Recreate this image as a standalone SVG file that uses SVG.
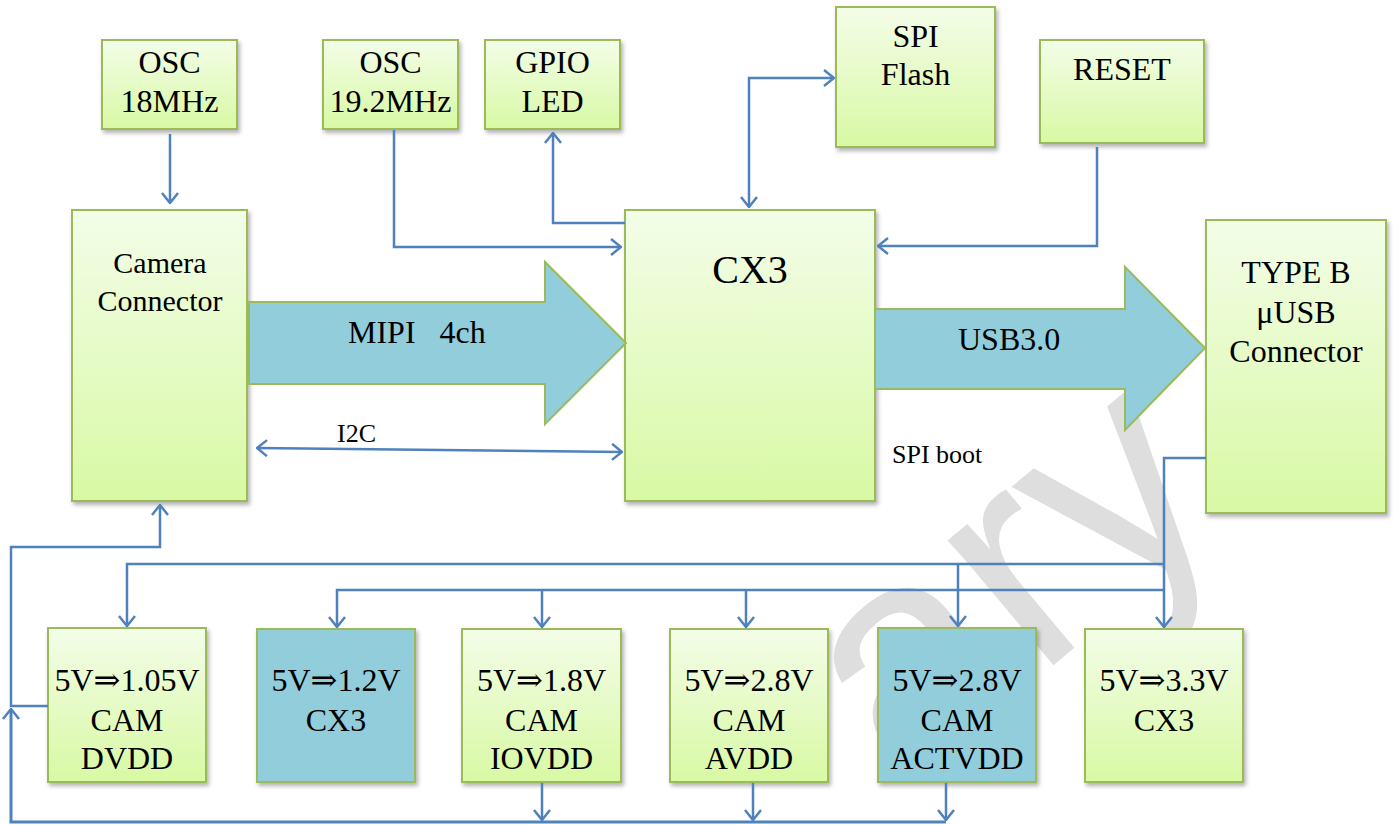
<svg xmlns="http://www.w3.org/2000/svg" width="1396" height="825" viewBox="0 0 1396 825">
<style>
.box{fill:url(#g);stroke:#9BBB59;stroke-width:2;filter:url(#sh)}
.blue{fill:#92CDDC;stroke:#9BBB59;stroke-width:2;filter:url(#sh)}
.big{fill:#92CDDC;stroke:#9BBB59;stroke-width:2}
.t{font-family:'Liberation Serif','DejaVu Serif',serif;font-size:32px;fill:#000;text-anchor:middle}
.s{font-family:'Liberation Serif','DejaVu Serif',serif;font-size:26px;fill:#000}
.c{fill:none;stroke:#4F81BD;stroke-width:2.5}
.wm{font-family:'Liberation Sans','DejaVu Sans',sans-serif;font-size:310px;fill:#dedede}
</style>
<defs>
<linearGradient id="g" x1="0" y1="0" x2="0" y2="1">
<stop offset="0" stop-color="#F3FDE8"/>
<stop offset="1" stop-color="#D8F9A4"/>
</linearGradient>
<filter id="sh" x="-10%" y="-10%" width="130%" height="130%">
<feDropShadow dx="2" dy="3" stdDeviation="2" flood-color="#000" flood-opacity="0.3"/>
</filter>
<marker id="a" markerUnits="userSpaceOnUse" viewBox="0 0 12 18" markerWidth="12" markerHeight="18" refX="11" refY="9" orient="auto-start-reverse">
<path d="M1,1 L11,9 L1,17" fill="none" stroke="#4F81BD" stroke-width="2.5"/>
</marker>
</defs>
<rect width="1396" height="825" fill="#fff"/>
<text class="wm" transform="translate(905,790) rotate(-40)">ary</text>

<g id="osc18"><rect class="box" x="102" y="40" width="135" height="89"/><text class="t" x="169.5" y="73">OSC</text><text class="t" x="169.5" y="112">18MHz</text></g>
<g id="osc192"><rect class="box" x="323" y="40" width="135" height="89"/><text class="t" x="390.5" y="73">OSC</text><text class="t" x="390.5" y="112">19.2MHz</text></g>
<g id="gpio"><rect class="box" x="485" y="40" width="135" height="89"/><text class="t" x="552.5" y="73">GPIO</text><text class="t" x="552.5" y="112">LED</text></g>
<g id="spiflash"><rect class="box" x="836" y="7" width="159" height="140"/><text class="t" x="915.5" y="47">SPI</text><text class="t" x="915.5" y="85">Flash</text></g>
<g id="reset"><rect class="box" x="1040" y="40" width="164" height="103"/><text class="t" x="1122" y="80">RESET</text></g>
<g id="camera"><rect class="box" x="72" y="210" width="175" height="291"/><text class="t" x="160" y="273" style="font-size:30px">Camera</text><text class="t" x="160" y="311" style="font-size:30px">Connector</text></g>
<g id="cx3"><rect class="box" x="625" y="210" width="250" height="291"/><text class="t" x="750" y="283" style="font-size:40px">CX3</text></g>
<g id="typeb"><rect class="box" x="1206" y="220" width="180" height="293"/><text class="t" x="1296" y="283">TYPE B</text><text class="t" x="1296" y="323">μUSB</text><text class="t" x="1296" y="362">Connector</text></g>

<g id="pwr1"><rect class="box" x="48" y="628" width="158" height="154"/><text class="t" x="127" y="691">5V⇒1.05V</text><text class="t" x="127" y="731">CAM</text><text class="t" x="127" y="769">DVDD</text></g>
<g id="pwr2"><rect class="blue" x="257" y="629" width="158" height="153"/><text class="t" x="336" y="691">5V⇒1.2V</text><text class="t" x="336" y="731">CX3</text></g>
<g id="pwr3"><rect class="box" x="462" y="629" width="159" height="153"/><text class="t" x="541.5" y="691">5V⇒1.8V</text><text class="t" x="541.5" y="731">CAM</text><text class="t" x="541.5" y="769">IOVDD</text></g>
<g id="pwr4"><rect class="box" x="670" y="629" width="158" height="153"/><text class="t" x="749" y="691">5V⇒2.8V</text><text class="t" x="749" y="731">CAM</text><text class="t" x="749" y="769">AVDD</text></g>
<g id="pwr5"><rect class="blue" x="878" y="628" width="158" height="154"/><text class="t" x="957" y="691">5V⇒2.8V</text><text class="t" x="957" y="731">CAM</text><text class="t" x="957" y="769">ACTVDD</text></g>
<g id="pwr6"><rect class="box" x="1085" y="629" width="158" height="153"/><text class="t" x="1164" y="691">5V⇒3.3V</text><text class="t" x="1164" y="731">CX3</text></g>

<g id="mipi"><polygon class="big" points="249,302 545,302 545,262 626,343 545,424 545,384 249,384"/><text class="s" x="348" y="343" style="font-size:32px" xml:space="preserve">MIPI   4ch</text></g>
<g id="usb"><polygon class="big" points="875,309 1125,309 1125,267 1205,348 1125,430 1125,389 875,389"/><text class="s" x="958" y="350" style="font-size:32px">USB3.0</text></g>

<g id="connectors">
<path class="c" d="M170,134 V203" marker-end="url(#a)"/>
<path class="c" d="M394,130 V247 H621" marker-end="url(#a)"/>
<path class="c" d="M625,223 H553 V133" marker-end="url(#a)"/>
<path class="c" d="M749,207 V78 H834" marker-start="url(#a)" marker-end="url(#a)"/>
<path class="c" d="M1097,147 V246 H878" marker-end="url(#a)"/>
<path class="c" d="M257,448 L622,452" marker-start="url(#a)" marker-end="url(#a)"/>
<path class="c" d="M1206,458 H1164 V627" marker-end="url(#a)"/>
<path class="c" d="M1164,564 H127 V626" marker-end="url(#a)"/>
<path class="c" d="M958,564 V626" marker-end="url(#a)"/>
<path class="c" d="M1164,590 H337 V627" marker-end="url(#a)"/>
<path class="c" d="M542,590 V627" marker-end="url(#a)"/>
<path class="c" d="M746,590 V627" marker-end="url(#a)"/>
<path class="c" d="M542,783 V820" marker-end="url(#a)"/>
<path class="c" d="M753,783 V820" marker-end="url(#a)"/>
<path class="c" d="M946,783 V820" marker-end="url(#a)"/>
<path class="c" d="M946,822 H11 V709" style="stroke-width:3" marker-end="url(#a)"/>
<path class="c" d="M48,706 H11 V547 H160 V505" marker-end="url(#a)"/>
<text class="s" x="337" y="442">I2C</text>
<text class="s" x="892" y="463">SPI boot</text>
</g>
</svg>
